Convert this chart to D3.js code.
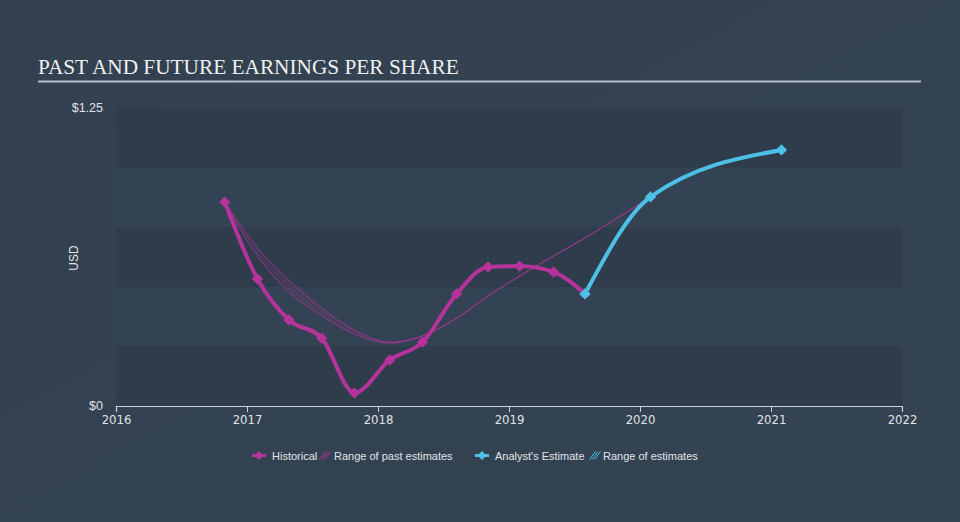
<!DOCTYPE html>
<html><head><meta charset="utf-8">
<script src="https://cdn.jsdelivr.net/npm/d3@7"></script>
<style>html,body{margin:0;padding:0;background:#334251;}svg{display:block;}</style>
</head><body>
<script>
const histDates = [2016.83, 2017.08, 2017.32, 2017.57, 2017.82, 2018.09, 2018.34, 2018.60, 2018.84, 2019.08, 2019.34, 2019.58];
const histValues = [0.856, 0.533, 0.361, 0.285, 0.055, 0.193, 0.268, 0.470, 0.583, 0.587, 0.562, 0.470];
const estDates = [2019.58, 2020.08, 2021.08];
const estValues = [0.470, 0.877, 1.074];
const rangeDates = [2016.83, 2017.08, 2017.32, 2017.57, 2017.82, 2018.09, 2018.34, 2018.60, 2018.84, 2019.08, 2019.34, 2019.58, 2020.08];
const rangeLow = [0.856, 0.629, 0.478, 0.378, 0.302, 0.264, 0.294, 0.369, 0.461, 0.545, 0.629, 0.705, 0.877];
const rangeHigh = [0.856, 0.663, 0.529, 0.411, 0.319, 0.268, 0.294, 0.369, 0.461, 0.545, 0.629, 0.705, 0.877];
const xTicks = [2016, 2017, 2018, 2019, 2020, 2021, 2022];
const yTicks = [0, 1.25];
const yTickLabels = ["$0", "$1.25"];
const bandEdges = [0, 0.25, 0.5, 0.75, 1.0, 1.25];

const W = 960, H = 522;
const svg = d3.select("body").append("svg").attr("width", W).attr("height", H);
const defs = svg.append("defs");
const bg = defs.append("linearGradient").attr("id","bg").attr("x1",0).attr("y1",0).attr("x2",1).attr("y2",1);
bg.append("stop").attr("offset","0%").attr("stop-color","#324050");
bg.append("stop").attr("offset","100%").attr("stop-color","#344352");
svg.append("rect").attr("width",W).attr("height",H).attr("fill","url(#bg)");

const pat = defs.append("pattern").attr("id","hatchM").attr("patternUnits","userSpaceOnUse")
  .attr("width",3).attr("height",3).attr("patternTransform","rotate(45)");
pat.append("line").attr("x1",0).attr("y1",0).attr("x2",0).attr("y2",3).attr("stroke","#b5339a").attr("stroke-width",1.2);

const x = d3.scaleLinear().domain([2016, 2022]).range([116, 902]);
const y = d3.scaleLinear().domain([0, 1.25]).range([406, 108]);

// bands
const g = svg.append("g");
for (let i = 0; i < bandEdges.length - 1; i++) {
  g.append("rect").attr("x", x(2016)).attr("width", x(2022) - x(2016))
    .attr("y", y(bandEdges[i+1])).attr("height", y(bandEdges[i]) - y(bandEdges[i+1]))
    .attr("fill", i % 2 === 0 ? "#2f3c4b" : "#344353");
}

// title
svg.append("text").attr("x", 38).attr("y", 74).attr("fill", "#f0f0f0")
  .attr("font-family", "'Liberation Serif', 'Times New Roman', serif").attr("font-size", 21.3)
  .text("PAST AND FUTURE EARNINGS PER SHARE");
svg.append("line").attr("x1", 38).attr("x2", 921).attr("y1", 81.5).attr("y2", 81.5)
  .attr("stroke", "#b8bec6").attr("stroke-width", 2);

// y labels
svg.selectAll(".ylab").data(yTicks).enter().append("text")
  .attr("x", 103).attr("y", d => y(d) + 4).attr("text-anchor", "end")
  .attr("fill", "#e0e4e8").attr("font-family", "'Liberation Sans', Arial, sans-serif").attr("font-size", 12.5)
  .text((d, i) => yTickLabels[i]);
svg.append("text").attr("transform", "translate(78,258) rotate(-90)").attr("text-anchor", "middle")
  .attr("fill", "#e0e4e8").attr("font-family", "'Liberation Sans', Arial, sans-serif").attr("font-size", 12)
  .text("USD");

// x axis
const xAxis = d3.axisBottom(x).tickValues(xTicks).tickFormat(d3.format("d")).tickSize(6).tickPadding(3);
const ax = svg.append("g").attr("transform", "translate(0,406)").call(xAxis);
ax.select(".domain").attr("stroke", "#c8d0da").attr("stroke-width", 1.2);
ax.selectAll(".tick line").attr("stroke", "#c8d0da");
ax.selectAll(".tick text").attr("fill", "#e0e4e8").attr("font-size", 13)
  .attr("font-family", "'Liberation Sans Narrow', 'DejaVu Sans Condensed', 'Liberation Sans', sans-serif");

// range area
const rdata = rangeDates.map((d, i) => ({d, lo: rangeLow[i], hi: rangeHigh[i]}));
const area = d3.area().x(d => x(d.d)).y0(d => y(d.lo)).y1(d => y(d.hi)).curve(d3.curveMonotoneX);
svg.append("path").datum(rdata).attr("d", area).attr("fill", "url(#hatchM)").attr("opacity", 0.8);
const loLine = d3.line().x(d => x(d.d)).y(d => y(d.lo)).curve(d3.curveMonotoneX);
const hiLine = d3.line().x(d => x(d.d)).y(d => y(d.hi)).curve(d3.curveMonotoneX);
svg.append("path").datum(rdata).attr("d", loLine).attr("fill", "none").attr("stroke", "#b5339a").attr("stroke-width", 1).attr("stroke-dasharray", "2,1");
svg.append("path").datum(rdata).attr("d", hiLine).attr("fill", "none").attr("stroke", "#b5339a").attr("stroke-width", 1).attr("stroke-dasharray", "2,1");

// lines
const line = d3.line().x(d => x(d[0])).y(d => y(d[1])).curve(d3.curveMonotoneX);
const hist = histDates.map((d, i) => [d, histValues[i]]);
const est = estDates.map((d, i) => [d, estValues[i]]);
svg.append("path").datum(hist).attr("d", line).attr("fill", "none").attr("stroke", "#b5339a").attr("stroke-width", 4);
svg.append("path").datum(est).attr("d", line).attr("fill", "none").attr("stroke", "#4cc0e6").attr("stroke-width", 4);

function markers(data, color) {
  svg.selectAll(null).data(data).enter().append("path")
    .attr("d", d3.symbol().type(d3.symbolSquare).size(64))
    .attr("transform", d => `translate(${x(d[0])},${y(d[1])}) rotate(45)`)
    .attr("fill", color);
}
markers(hist, "#b5339a");
markers(est, "#4cc0e6");

// legend
const lg = svg.append("g").attr("font-family", "'Liberation Sans', Arial, sans-serif").attr("font-size", 11).attr("fill", "#e0e4e8");
function legendMarker(cx, color) {
  lg.append("line").attr("x1", cx - 7).attr("x2", cx + 7).attr("y1", 455.5).attr("y2", 455.5).attr("stroke", color).attr("stroke-width", 3);
  lg.append("path").attr("d", d3.symbol().type(d3.symbolSquare).size(40)).attr("transform", `translate(${cx},455.5) rotate(45)`).attr("fill", color);
}
function legendHatch(cx, color) {
  for (let k = -1; k <= 1; k++) {
    lg.append("line").attr("x1", cx - 3 + k * 2.5).attr("y1", 459.5).attr("x2", cx + 3 + k * 2.5).attr("y2", 451.5).attr("stroke", color).attr("stroke-width", 1);
  }
}
legendMarker(259, "#b5339a");
lg.append("text").attr("x", 272).attr("y", 459.5).text("Historical");
legendHatch(325, "#b5339a");
lg.append("text").attr("x", 334).attr("y", 459.5).text("Range of past estimates");
legendMarker(482, "#4cc0e6");
lg.append("text").attr("x", 495).attr("y", 459.5).text("Analyst's Estimate");
legendHatch(595, "#4cc0e6");
lg.append("text").attr("x", 603).attr("y", 459.5).text("Range of estimates");
</script>
</body></html>
